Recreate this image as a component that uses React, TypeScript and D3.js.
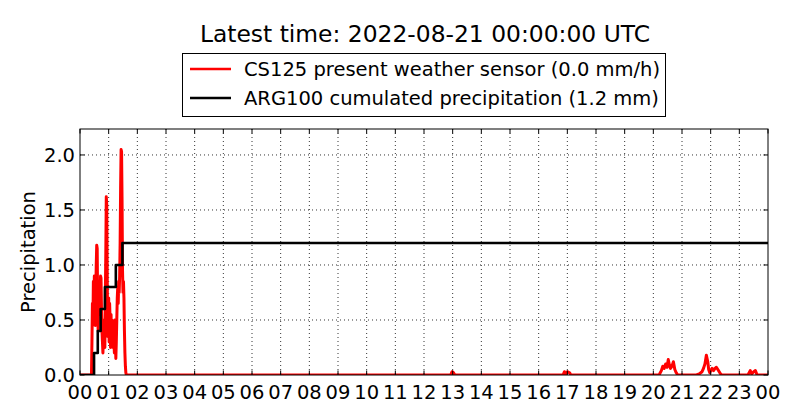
import React from "react";
import * as d3 from "d3";

const title = "Latest time: 2022-08-21 00:00:00 UTC";
const legendLabels = [
  "CS125 present weather sensor (0.0 mm/h)",
  "ARG100 cumulated precipitation (1.2 mm)",
];
const seriesColors = ["#ff0000", "#000000"];
const yTicks = [0, 0.5, 1.0, 1.5, 2.0];
const xTickHours = d3.range(0, 25);
const xTickLabels = xTickHours.map((h) => String(h % 24).padStart(2, "0"));

// CS125 rain rate (mm/h), early event sampled per minute starting at minute 24
const earlyStartMinute = 24;
const earlyRate = [
  0, 0.3, 0.65, 0.45, 0.85, 0.55, 0.9, 0.6, 0.45, 0.75, 1.0, 1.18, 1.15, 0.6,
  0.4, 0.75, 0.85, 0.55, 0.7, 0.9, 0.88, 0.6, 0.4, 0.3, 0.2, 0.35, 0.5, 0.3,
  0.25, 0.7, 1.1, 1.62, 1.55, 0.9, 0.35, 0.55, 0.7, 0.3, 0.65, 0.5, 0.25, 0.55,
  0.3, 0.5, 0.35, 0.25, 0.45, 0.3, 0.2, 0.5, 0.35, 0.15, 0.3, 0.5, 0.7, 0.8,
  0.65, 0.85, 0.75, 0.9, 1.2, 1.7, 2.05, 2.03, 1.6, 0.95, 0.75, 0.85, 0.7, 0.4,
  0.2, 0.08, 0.02, 0,
];
// later small events: hour, rate
const lateHours = [
  12.93, 12.98, 13.03, 13.08,
  16.85, 16.9, 16.95, 17.0, 17.08, 17.12,
  20.2, 20.28, 20.33, 20.38, 20.43, 20.48, 20.52, 20.56, 20.6, 20.65, 20.7, 20.75, 20.8, 20.85,
  21.5, 21.6, 21.7, 21.75, 21.8, 21.85, 21.9, 21.93, 21.97, 22.0, 22.05, 22.1, 22.15, 22.2, 22.25, 22.32, 22.38,
  23.3, 23.38, 23.43, 23.5, 23.56, 23.62,
  24,
];
const lateRate = [
  0, 0.03, 0.02, 0,
  0, 0.03, 0.01, 0.03, 0.02, 0,
  0, 0.04, 0.08, 0.06, 0.1, 0.07, 0.14, 0.09, 0.06, 0.08, 0.12, 0.05, 0.02, 0,
  0, 0.01, 0.03, 0.06, 0.1, 0.18, 0.12, 0.05, 0.02, 0.04, 0.06, 0.04, 0.06, 0.07, 0.05, 0.02, 0,
  0, 0.04, 0.01, 0.03, 0.04, 0,
  0,
];

// ARG100 cumulated precipitation (mm), step changes
const stepHours = [0, 0.49, 0.62, 0.72, 0.87, 1.25, 1.48, 24];
const stepValues = [0, 0.2, 0.4, 0.6, 0.8, 1.0, 1.2, 1.2];

const W = 800;
const H = 420;
const M = { left: 80, right: 768, top: 129, bottom: 375 };

export default function App() {
  const x = d3.scaleLinear().domain([0, 24]).range([M.left, M.right]);
  const y = d3.scaleLinear().domain([0, 2.236]).range([M.bottom, M.top]);

  const redPts: [number, number][] = [[0, 0]];
  earlyRate.forEach((v, i) => redPts.push([(earlyStartMinute + i) / 60, v]));
  lateHours.forEach((h, i) => redPts.push([h, lateRate[i]]));

  const blackPts: [number, number][] = stepHours.map((h, i) => [h, stepValues[i]]);

  const line = d3
    .line<[number, number]>()
    .x((d) => x(d[0]))
    .y((d) => y(d[1]));
  const stepLine = d3
    .line<[number, number]>()
    .x((d) => x(d[0]))
    .y((d) => y(d[1]))
    .curve(d3.curveStepAfter);

  const font = "DejaVu Sans, sans-serif";
  const tickLen = 4.5;
  const fs = 19.5;

  return (
    <svg
      width={W}
      height={H}
      style={{ position: "absolute", left: 0, top: 0, background: "#fff" }}
      fontFamily={font}
    >
      <rect x={0} y={0} width={W} height={H} fill="#fff" />
      <defs>
        <clipPath id="plot">
          <rect x={M.left} y={M.top} width={M.right - M.left} height={M.bottom - M.top} />
        </clipPath>
      </defs>
      <text x={425} y={42} textAnchor="middle" fontSize={23.4} fill="#000">
        {title}
      </text>

      {/* grid */}
      <g stroke="#000" strokeWidth={0.8} strokeDasharray="1,3">
        {xTickHours.slice(1, -1).map((h) => (
          <line key={"gx" + h} x1={x(h)} x2={x(h)} y1={M.top} y2={M.bottom} />
        ))}
        {yTicks.slice(1).map((v) => (
          <line key={"gy" + v} x1={M.left} x2={M.right} y1={y(v)} y2={y(v)} />
        ))}
      </g>

      {/* data */}
      <g clipPath="url(#plot)" fill="none" strokeLinejoin="round">
        <path d={line(redPts) || ""} stroke={seriesColors[0]} strokeWidth={3} />
        <path d={stepLine(blackPts) || ""} stroke={seriesColors[1]} strokeWidth={2.6} />
      </g>

      {/* ticks */}
      <g stroke="#000" strokeWidth={1}>
        {xTickHours.map((h) => (
          <g key={"tx" + h}>
            <line x1={x(h)} x2={x(h)} y1={M.bottom} y2={M.bottom - tickLen} />
            <line x1={x(h)} x2={x(h)} y1={M.top} y2={M.top + tickLen} />
          </g>
        ))}
        {yTicks.map((v) => (
          <g key={"ty" + v}>
            <line x1={M.left} x2={M.left + tickLen} y1={y(v)} y2={y(v)} />
            <line x1={M.right} x2={M.right - tickLen} y1={y(v)} y2={y(v)} />
          </g>
        ))}
      </g>
      <rect
        x={M.left}
        y={M.top}
        width={M.right - M.left}
        height={M.bottom - M.top}
        fill="none"
        stroke="#000"
        strokeWidth={1}
      />

      {/* tick labels */}
      <g fontSize={fs} fill="#000">
        {xTickHours.map((h, i) => (
          <text key={"lx" + h} x={x(h)} y={399} textAnchor="middle">
            {xTickLabels[i]}
          </text>
        ))}
        {yTicks.map((v) => (
          <text key={"ly" + v} x={75} y={y(v) + 7} textAnchor="end">
            {d3.format(".1f")(v)}
          </text>
        ))}
      </g>
      <text
        transform={`translate(35, ${(M.top + M.bottom) / 2}) rotate(-90)`}
        textAnchor="middle"
        fontSize={fs}
        fill="#000"
      >
        Precipitation
      </text>

      {/* legend */}
      <g>
        <rect x={182.5} y={53.5} width={483} height={63} fill="#fff" stroke="#000" strokeWidth={1} />
        {legendLabels.map((lab, i) => (
          <g key={lab}>
            <line
              x1={190}
              x2={231}
              y1={69 + i * 29}
              y2={69 + i * 29}
              stroke={seriesColors[i]}
              strokeWidth={2.6}
            />
            <text x={244} y={76 + i * 29} fontSize={fs} fill="#000">
              {lab}
            </text>
          </g>
        ))}
      </g>
    </svg>
  );
}
